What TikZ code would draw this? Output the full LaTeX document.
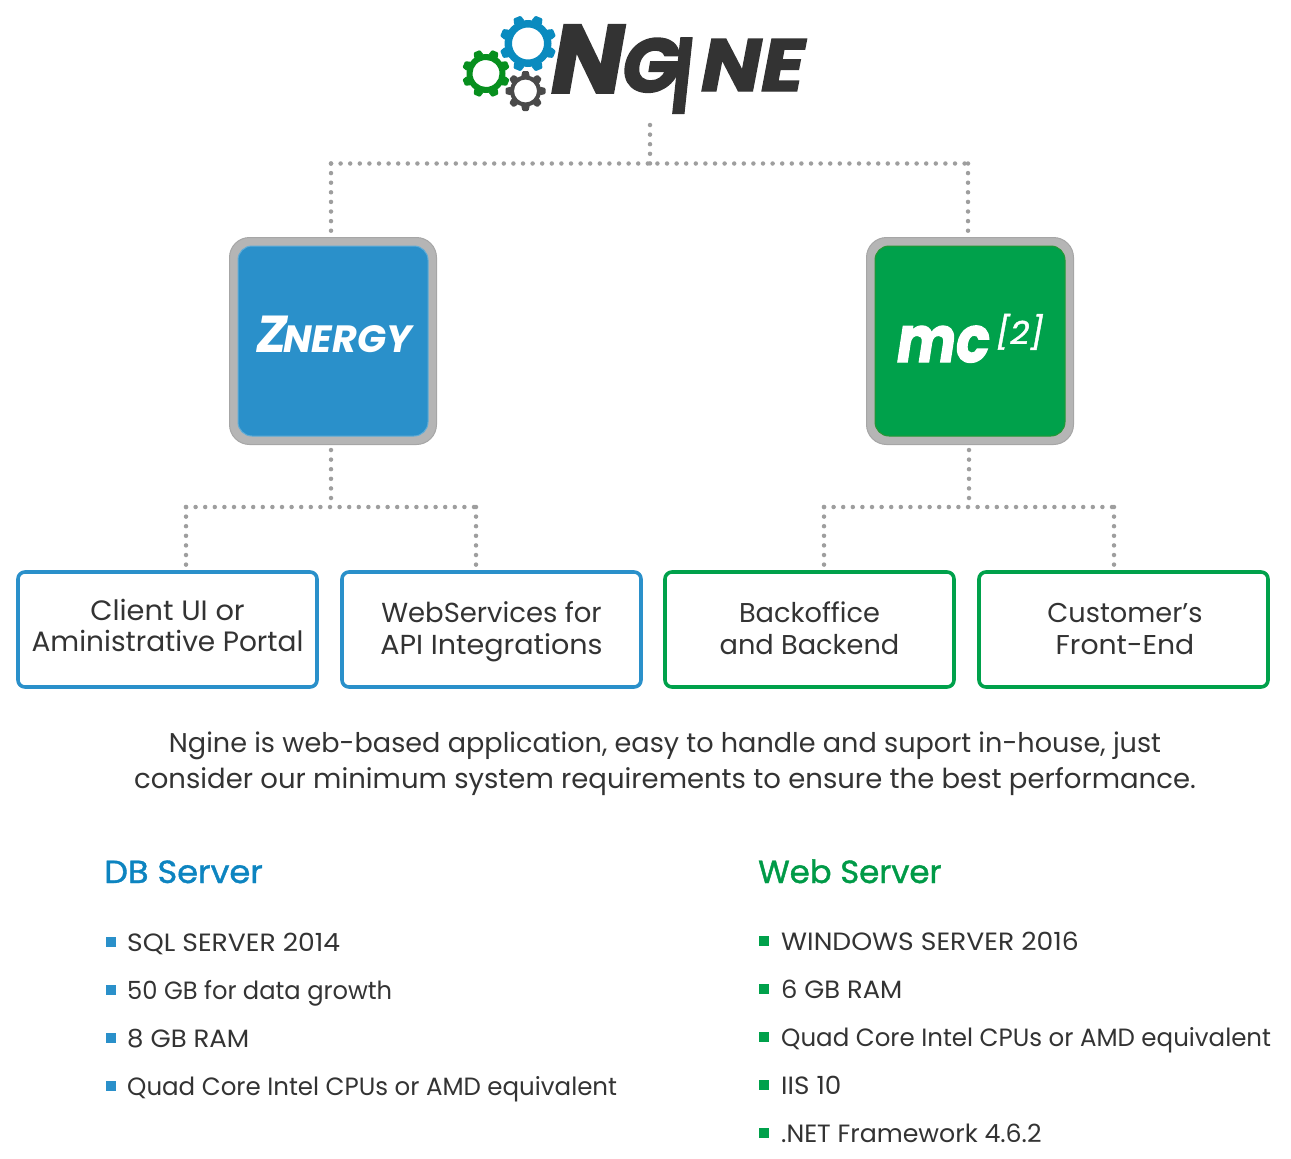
\documentclass[tikz,border=0pt]{standalone}
\usepackage{fontspec}
\setmainfont{Poppins}
\newfontfamily\logofont[FakeBold=2]{Poppins}
\newfontfamily\headfont[FakeBold=1.3]{Poppins}
\definecolor{cblue}{HTML}{2A90CA}
\definecolor{cbluetxt}{HTML}{0D84C0}
\definecolor{cgreen}{HTML}{00A14B}
\definecolor{cgreent}{HTML}{009A47}
\definecolor{gearblue}{HTML}{0A8BBF}
\definecolor{geargreen}{HTML}{078F1E}
\definecolor{geargray}{HTML}{4A4A4A}
\definecolor{dark}{HTML}{333333}
\definecolor{dotgray}{HTML}{9E9E9E}
\definecolor{framegray}{HTML}{B5B5B5}
\newcommand{\gearshape}[8]{% x y hole root outer halfwidth colour rotation
  \begin{scope}[shift={(#1,#2)},rotate=#8]
    \fill[#7,even odd rule] (0,0) circle (#4) (0,0) circle (#3);
    \foreach \a in {0,45,...,315}{
      \fill[#7,rotate=\a,rounded corners=1pt] (#4-1,-#6*1.25) -- (#5,-#6*.85) -- (#5,#6*.85) -- (#4-1,#6*1.25) -- cycle;
    }
  \end{scope}
}
\newcommand{\cardlines}[4]{\rule{0pt}{#3pt}#1\\#2\rule[-#4pt]{0pt}{#4pt}}
\newcommand{\widen}[2]{\scalebox{#1}[1]{#2}}
\tikzset{
  x=1pt,y=-1pt,
  dots/.style={dotgray,line width=4.5pt,line cap=round,dash pattern=on 0pt off 9.6pt},
  card/.style={draw,line width=3.6pt,rounded corners=7pt,fill=white,inner sep=0pt,align=center,text=dark},
  frame/.style={draw=black!35,fill=framegray,line width=1pt,rounded corners=20pt,minimum width=207pt,minimum height=207pt,inner sep=0pt},
  tile/.style={rounded corners=14pt,minimum width=190pt,minimum height=190pt,inner sep=0pt,line width=1pt},
  listtxt/.style={anchor=base west,inner sep=0pt,text=dark,font=\fontsize{25}{30}\selectfont},
  bul/.style={minimum size=10pt,inner sep=0pt},
  head/.style={anchor=base west,inner sep=0pt,font=\fontsize{32}{36}\headfont},
  body/.style={inner sep=0pt,text=dark,font=\fontsize{27.5}{36}\selectfont,align=center},
  logotxt/.style={inner sep=0pt,anchor=base west,text=dark}
}
\begin{document}
\begin{tikzpicture}
\useasboundingbox (0,0) rectangle (1291,1159);
% logo
\gearshape{528}{43.5}{16}{23.5}{28.5}{4.5}{gearblue}{22.5}
\gearshape{486}{73.5}{13.5}{19.5}{24}{4}{geargreen}{22.5}
\gearshape{525.5}{91}{11.5}{15.5}{20}{3.5}{geargray}{0}
\node[logotxt,font=\fontsize{97}{97}\logofont\bfseries\itshape] (logoN) at (551,93) {N};
\node[logotxt,font=\fontsize{76}{76}\logofont\bfseries\itshape] (logoG) at (622,92) {G};
\node[logotxt,font=\fontsize{76}{76}\logofont\bfseries\itshape,yscale=1.4,xscale=.85] (logoI) at (672,113) {I};
\node[logotxt,font=\fontsize{74}{74}\logofont\bfseries\itshape,xscale=1.08] (logoNE) at (701,91) {NE};
% top tree
\coordinate (rootdrop) at (650,163.5);
\coordinate (rootstart) at (650,125);
\coordinate (jl) at (331,163.5);
\coordinate (jr) at (968,163.5);
% tiles
\node[frame] (zframe) at (333,341) {};
\node[tile,fill=cblue,draw=cblue!75!white] (znergy) at (333,341) {};
\node[frame] (mframe) at (970,341) {};
\node[tile,fill=cgreen,draw=cgreen!70!olive] (mc) at (970,341) {};
\node[inner sep=0pt,text=white,anchor=base west,font=\bfseries\itshape] (ztext) at (256,352) {{\fontsize{52}{52}\selectfont Z}\kern-4pt{\fontsize{38}{38}\selectfont NERGY}};
\node[inner sep=0pt,text=white,font=\fontsize{64}{64}\logofont\bfseries\itshape,anchor=base west,xscale=.87] (mctext) at (897,362) {mc};
\node[inner sep=0pt,text=white,font=\fontsize{32}{32}\headfont\itshape,anchor=base west,xscale=1.04] (mcsup) at (996,344) {[2]};
% cards
\node[card,draw=cblue,minimum width=299pt,minimum height=115pt,font=\fontsize{28}{31}\selectfont] (c1) at (167.5,629.5) {\cardlines{\widen{1.03}{Client UI or}}{Aministrative Portal}{24}{12}};
\node[card,draw=cblue,minimum width=299pt,minimum height=115pt,font=\fontsize{27.5}{32}\selectfont] (c2) at (491.5,629.5) {\cardlines{WebServices for}{\widen{1.04}{API Integrations}}{27}{10}};
\node[card,draw=cgreen,minimum width=289pt,minimum height=115pt,font=\fontsize{27.2}{32}\selectfont] (c3) at (809.5,629.5) {\cardlines{Backoffice}{and Backend}{27}{10}};
\node[card,draw=cgreen,minimum width=289pt,minimum height=115pt,font=\fontsize{27.2}{32}\selectfont] (c4) at (1123.5,629.5) {\cardlines{\hspace*{3pt}Customer’s}{\hspace*{3pt}\widen{1.04}{Front-End}}{27}{10}};
% connectors
\draw[dots] (rootstart) -- (rootdrop);
\draw[dots] (jl) -- (jr);
\draw[dots] (jl) -- (jl |- zframe.north);
\draw[dots] (jr) -- (jr |- mframe.north);
\coordinate (zj) at (331,507);
\coordinate (zl) at (186,507);
\coordinate (zr) at (476,507);
\coordinate (mj) at (969,507);
\coordinate (ml) at (824,507);
\coordinate (mr) at (1114,507);
\draw[dots] (zframe.south -| zj) ++(0,5) -- (zj);
\draw[dots] (zl) -- (zr);
\draw[dots] (zl) -- (zl |- c1.north);
\draw[dots] (zr) -- (zr |- c2.north);
\draw[dots] (mframe.south -| mj) ++(0,5) -- (mj);
\draw[dots] (ml) -- (mr);
\draw[dots] (ml) -- (ml |- c3.north);
\draw[dots] (mr) -- (mr |- c4.north);
% body
\node[body] (intro) at (665,764) {\rule{0pt}{20pt}{\fontsize{27.1}{36}\selectfont Ngine is web-based application, easy to handle and suport in-house, just}\\consider our minimum system requirements to ensure the best performance.\rule[-8pt]{0pt}{8pt}};
\node[head,text=cbluetxt,xscale=1.05] (dbh) at (104,883) {DB Server};
\node[head,text=cgreent,xscale=1.01] (webh) at (758,883) {Web Server};
\foreach \n/\y/\s/\t in {a/951.5/1.065/SQL SERVER 2014,b/999.5/.967/50 GB for data growth,c/1047.5/1.04/8 GB RAM,d/1095.5/.98/Quad Core Intel CPUs or AMD equivalent}{
  \node[bul,fill=cblue] (db\n b) at (111,\y-9.5) {};
  \node[listtxt,xscale=\s] (db\n) at (127,\y) {\t};
}
\foreach \n/\y/\s/\t in {a/950.5/1.065/WINDOWS SERVER 2016,b/998.5/1.03/6 GB RAM,c/1046.5/.98/Quad Core Intel CPUs or AMD equivalent,d/1094.5/1.05/IIS 10,e/1142.5/1.01/.NET Framework 4.6.2}{
  \node[bul,fill=cgreen] (web\n b) at (764,\y-9.5) {};
  \node[listtxt,xscale=\s] (web\n) at (781,\y) {\t};
}
\end{tikzpicture}
\end{document}
